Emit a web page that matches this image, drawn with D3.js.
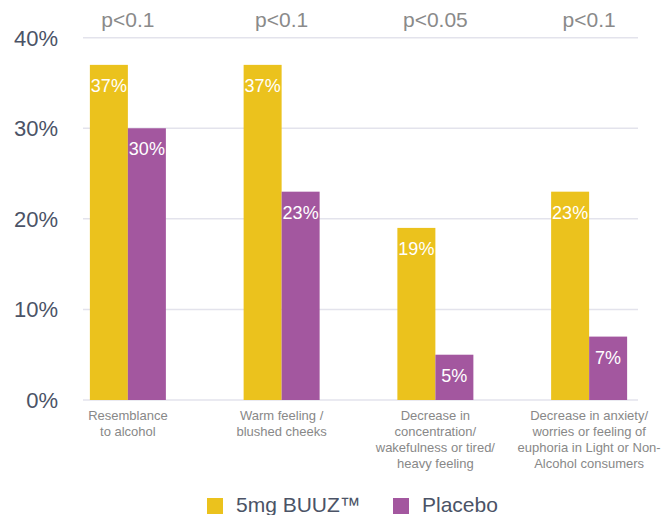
<!DOCTYPE html>
<html lang="en">
<head>
  <meta charset="UTF-8" />
  <title>BUUZ vs Placebo</title>
  <style>
    body { margin: 0; background: #fff; }
    text { font-family: 'Liberation Sans', Arial, sans-serif; }
    .grid line { stroke: #e3e3ec; stroke-width: 1.5px; }
    .ytick { fill: #4b5366; font-size: 22px; }
    .pval { fill: #8a8a8a; font-size: 21px; }
    .cat { fill: #888; font-size: 13px; }
    .val { fill: #fff; font-size: 18px; }
    .legend text { fill: #4b5366; font-size: 21px; }
  </style>
  <script src="https://d3js.org/d3.v7.min.js"></script>
</head>
<body>
  <svg width="667" height="515"></svg>
  <script>
    // data
    const categories = [
      ['Resemblance', 'to alcohol'],
      ['Warm feeling /', 'blushed cheeks'],
      ['Decrease in', 'concentration/', 'wakefulness or tired/', 'heavy feeling'],
      ['Decrease in anxiety/', 'worries or feeling of', 'euphoria in Light or Non-', 'Alcohol consumers']
    ];
    const pValues = ['p<0.1', 'p<0.1', 'p<0.05', 'p<0.1'];
    const series = ['5mg BUUZ™', 'Placebo'];
    const buuz = [37, 37, 19, 23];
    const placebo = [30, 23, 5, 7];
    const yTicks = [0, 10, 20, 30, 40];
    const colors = ['#ebc21d', '#a3579f'];

    const svg = d3.select('svg');

    const y = d3.scaleLinear().domain([0, 40]).range([400, 37.7]);
    const x0 = d3.scaleBand().domain(d3.range(categories.length)).range([51, 666]);
    const x1 = d3.scaleBand().domain(d3.range(series.length))
      .range([x0.bandwidth() / 2 - 38, x0.bandwidth() / 2 + 38]);

    // gridlines
    svg.append('g')
      .attr('class', 'grid')
      .selectAll('line')
      .data(yTicks)
      .join('line')
      .attr('x1', 83)
      .attr('x2', 638)
      .attr('y1', (d) => y(d))
      .attr('y2', (d) => y(d));

    // y tick labels
    svg.append('g')
      .selectAll('text')
      .data(yTicks)
      .join('text')
      .attr('class', 'ytick')
      .attr('x', 58)
      .attr('y', (d) => y(d) + 8)
      .attr('text-anchor', 'end')
      .text((d) => d + '%');

    const rows = categories.map((c, i) => ({ i, vals: [buuz[i], placebo[i]] }));

    const groups = svg.append('g')
      .selectAll('g')
      .data(rows)
      .join('g')
      .attr('transform', (d) => `translate(${x0(d.i)},0)`);

    groups.selectAll('rect')
      .data((d) => d.vals.map((v, s) => ({ v, s })))
      .join('rect')
      .attr('x', (d) => x1(d.s))
      .attr('width', x1.bandwidth())
      .attr('y', (d) => y(d.v))
      .attr('height', (d) => y(0) - y(d.v))
      .attr('fill', (d) => colors[d.s]);

    groups.selectAll('text.val')
      .data((d) => d.vals.map((v, s) => ({ v, s })))
      .join('text')
      .attr('class', 'val')
      .attr('x', (d) => x1(d.s) + x1.bandwidth() / 2)
      .attr('y', (d) => y(d.v) + 27)
      .attr('text-anchor', 'middle')
      .text((d) => d.v + '%');

    // p-values on top
    svg.append('g')
      .selectAll('text')
      .data(pValues)
      .join('text')
      .attr('class', 'pval')
      .attr('x', (d, i) => x0(i) + x0.bandwidth() / 2)
      .attr('y', 27)
      .attr('text-anchor', 'middle')
      .text((d) => d);

    // category labels
    svg.append('g')
      .selectAll('text')
      .data(categories)
      .join('text')
      .attr('class', 'cat')
      .attr('text-anchor', 'middle')
      .attr('x', (d, i) => x0(i) + x0.bandwidth() / 2)
      .attr('y', 420)
      .selectAll('tspan')
      .data((d) => d)
      .join('tspan')
      .attr('x', function () { return this.parentNode.getAttribute('x'); })
      .attr('dy', (d, j) => (j === 0 ? 0 : 16))
      .text((d) => d);

    // legend
    const legend = svg.append('g').attr('class', 'legend');
    const legendX = [207, 393];
    series.forEach((s, i) => {
      legend.append('rect')
        .attr('x', legendX[i])
        .attr('y', 498)
        .attr('width', 16)
        .attr('height', 16)
        .attr('fill', colors[i]);
      legend.append('text')
        .attr('x', legendX[i] + 29)
        .attr('y', 512)
        .text(s);
    });
  </script>
</body>
</html>
